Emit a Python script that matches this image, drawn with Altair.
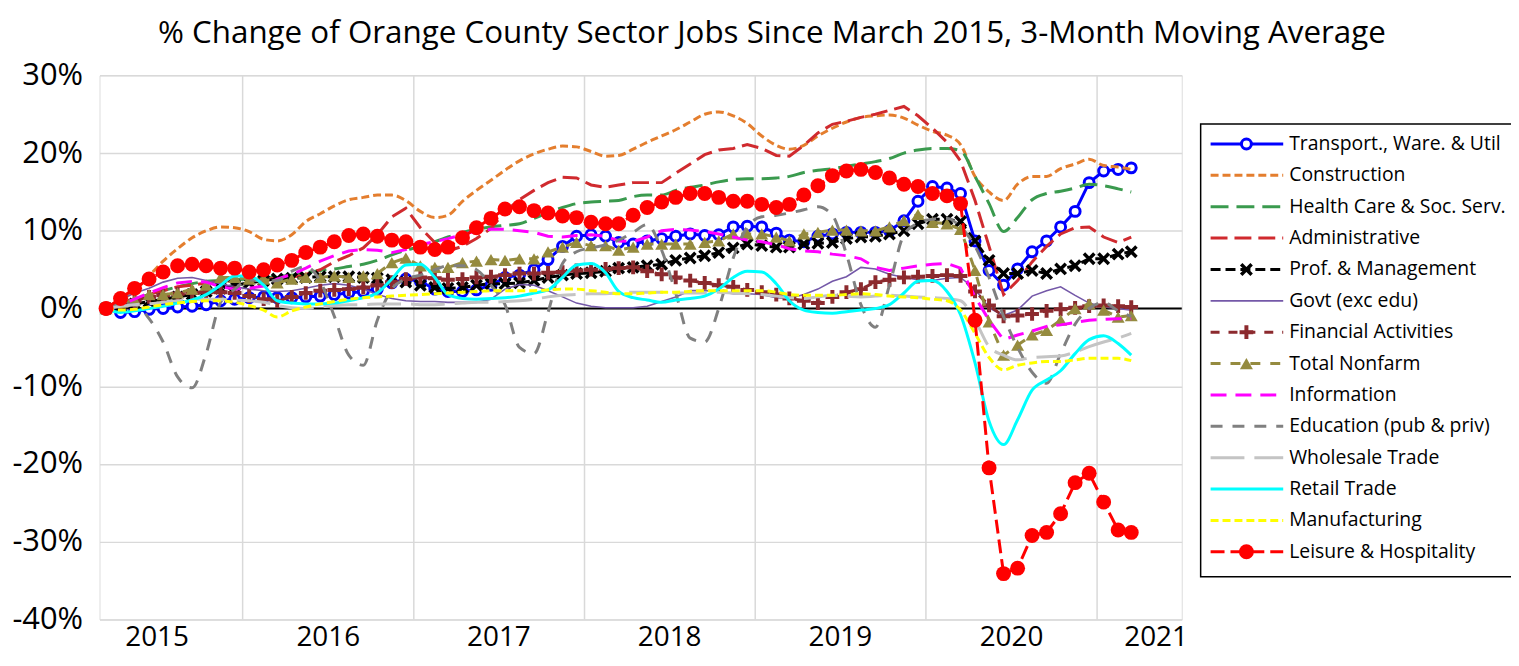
import altair as alt
import pandas as pd

# ---------------- data ----------------
months = [d.strftime("%Y-%m-15") for d in pd.date_range("2015-03-01", periods=73, freq="MS")]
grid_dates = ["2016-01-01", "2017-01-01", "2018-01-01", "2019-01-01", "2020-01-01", "2021-01-01"]
y_ticks = [-40, -30, -20, -10, 0, 10, 20, 30]

names = ["Transport., Ware. & Util", "Construction", "Health Care & Soc. Serv.", "Administrative",
         "Prof. & Management", "Govt (exc edu)", "Financial Activities", "Total Nonfarm",
         "Information", "Education (pub & priv)", "Wholesale Trade", "Retail Trade",
         "Manufacturing", "Leisure & Hospitality"]

transport = [0.0, -0.5, -0.4, -0.1, 0.0, 0.2, 0.3, 0.5, 1.0, 1.2, 1.4, 1.5,
             1.4, 1.4, 1.5, 1.6, 1.8, 2.0, 2.2, 2.5, 3.3, 3.8, 3.5, 2.5, 2.2, 2.2, 2.4, 3.0,
             4.0, 4.3, 5.0, 6.3, 8.0, 9.3, 9.5, 9.3, 8.5, 8.3, 8.7, 9.0, 9.3, 9.6, 9.4, 9.5,
             10.5, 10.6, 10.5, 9.7, 8.8, 8.6, 9.3, 9.6, 9.8, 9.8, 9.8, 10.0,
             11.3, 13.8, 15.7, 15.5, 14.8,
             8.7, 4.9, 3.0, 5.1, 7.3, 8.7, 10.5, 12.5, 16.2, 17.7, 17.9, 18.1]
construction = [0.0, 1.0, 2.3, 4.2, 6.1, 7.7, 9.1, 10.0, 10.5, 10.4, 9.9, 8.9, 8.7, 9.5, 11.2, 12.2,
                13.2, 14.0, 14.3, 14.6, 14.6, 13.9, 12.5, 11.7, 12.0, 13.8, 15.2, 16.5,
                17.8, 19.0, 19.9, 20.5, 20.9, 20.8, 20.2, 19.6, 19.7, 20.5, 21.4, 22.2, 23.0, 24.0,
                25.0, 25.3, 24.8, 23.8, 22.2, 21.0, 20.5, 21.0, 22.2, 23.2, 24.0, 24.6, 24.8, 24.9,
                24.5, 23.6, 22.8, 22.3, 21.1,
                17.0, 15.0, 13.9, 16.0, 17.0, 17.0, 18.0, 18.6, 19.2, 18.4, 18.2, 17.9]
health = [0.0, 0.5, 1.2, 1.8, 2.3, 2.8, 3.2, 3.5, 3.6, 3.7, 3.8, 3.9, 4.1, 4.3, 4.6, 4.9, 5.1, 5.4,
          5.7, 6.2, 6.9, 7.5, 8.0, 8.6, 9.2, 9.8, 10.2, 10.5,
          10.7, 10.9, 11.6, 12.3, 13.0, 13.5, 13.7, 13.8, 13.9, 14.4, 14.6, 14.6, 15.2, 15.6,
          15.9, 16.3, 16.6, 16.7, 16.7, 16.8, 17.0, 17.5, 17.8, 18.0, 18.3, 18.6, 18.9, 19.3,
          20.0, 20.4, 20.6, 20.6, 20.3,
          17.0, 13.5, 9.9, 11.7, 14.0, 14.8, 15.1, 15.5, 16.0, 15.8, 15.4, 15.0]
admin = [0.0, 0.5, 1.0, 1.8, 2.3, 2.8, 3.0, 3.3, 3.5, 3.6, 3.7, 3.8, 3.9, 4.0, 4.4, 5.0, 6.0, 6.8,
         7.8, 9.5, 11.8, 12.9, 10.4, 8.5, 7.4, 8.0, 9.0, 10.3,
         12.5, 14.0, 15.2, 16.2, 16.9, 16.8, 15.9, 15.6, 15.9, 16.2, 16.2, 16.2, 17.4, 18.6,
         19.8, 20.4, 20.6, 21.1, 20.6, 19.7, 19.6, 21.0, 22.6, 23.7, 24.1, 24.6, 25.0, 25.5,
         26.0, 24.8, 23.2, 21.4, 19.0,
         13.9, 8.0, 1.8, 3.6, 6.0, 8.0, 9.6, 10.4, 10.5, 9.2, 8.5, 9.2]
prof = [0.0, 0.3, 0.6, 0.9, 1.2, 1.5, 1.8, 2.2, 2.6, 3.0, 3.3, 3.6, 3.8, 3.9, 4.0, 4.1, 4.1, 4.1,
        4.0, 3.9, 3.7, 3.4, 3.0, 2.7, 2.6, 2.7, 3.0, 3.2,
        3.2, 3.3, 3.6, 4.0, 4.3, 4.5, 4.6, 4.8, 5.2, 5.3, 5.5, 5.7, 6.2, 6.5, 6.8, 7.2,
        7.8, 8.3, 8.1, 7.9, 7.9, 8.3, 8.4, 8.5, 9.0, 9.2, 9.3, 9.6,
        10.0, 10.9, 11.5, 11.5, 11.2,
        8.7, 6.2, 4.5, 4.5, 4.9, 4.5, 5.1, 5.5, 6.4, 6.4, 7.0, 7.3]
govt = [0.0, 1.2, 2.0, 2.6, 3.4, 3.9, 4.0, 3.6, 3.2, 2.8, 2.5, 2.3, 2.2, 2.3, 2.6, 3.0, 3.2, 3.0,
        2.5, 1.8, 1.3, 1.0, 0.9, 0.9, 0.8, 0.8, 0.8, 1.2,
        2.5, 3.1, 3.0, 2.3, 1.5, 0.7, 0.3, 0.1, 0.1, 0.1, 0.3, 0.9, 1.5, 2.3, 2.3, 2.2,
        1.9, 1.9, 1.8, 1.4, 1.3, 1.8, 2.5, 3.5, 4.1, 5.3, 5.1, 4.4,
        4.0, 3.7, 3.6, 3.9, 4.0,
        2.5, 0.1, -0.9, -0.2, 1.6, 2.3, 2.8, 1.7, 0.7, 0.2, 0.0, -0.2]
financial = [0.0, 0.3, 1.0, 1.5, 1.7, 1.9, 2.0, 2.1, 2.1, 2.0, 1.6, 1.2, 1.0, 1.5, 2.0, 2.3, 2.4, 2.5,
             2.7, 3.0, 3.4, 3.8, 4.0, 3.9, 3.7, 3.8, 4.0, 4.1,
             4.3, 4.5, 4.5, 4.6, 4.7, 4.9, 5.0, 5.1, 5.2, 5.3, 4.8, 4.4, 4.0, 3.6, 3.3, 3.0,
             2.8, 2.4, 2.1, 1.8, 1.3, 1.0, 0.7, 1.5, 2.1, 2.5, 3.4, 3.7,
             4.0, 4.1, 4.2, 4.3, 4.2,
             2.2, 0.4, -1.0, -0.9, -0.7, -0.3, -0.1, 0.1, 0.3, 0.4, 0.3, 0.2]
nonfarm = [0.0, 0.8, 1.1, 1.8, 1.8, 2.0, 2.5, 3.0, 4.0, 4.0, 3.8, 3.8, 3.3, 3.8, 4.0, 4.0, 4.2, 4.0,
           4.2, 4.5, 5.9, 6.5, 5.5, 5.3, 5.3, 5.9, 6.1, 6.3,
           6.2, 6.4, 6.4, 7.3, 7.9, 8.5, 8.1, 8.1, 7.5, 7.9, 8.3, 8.3, 8.3, 8.3, 8.5, 8.7,
           9.6, 9.6, 9.6, 9.2, 8.7, 9.6, 9.8, 10.1, 10.1, 10.0, 10.0, 10.5,
           11.3, 12.1, 11.1, 10.9, 10.2,
           4.9, -1.7, -6.0, -4.7, -3.4, -2.8, -1.5, 0.0, 0.6, -0.2, -1.1, -0.9]
information = [0.0, 0.5, 1.2, 2.0, 2.7, 3.3, 3.5, 3.4, 2.8, 2.5, 2.6, 2.9, 3.8, 4.4, 5.2, 6.1, 6.8, 7.4,
               7.6, 7.5, 7.2, 7.6, 8.2, 8.6, 9.0, 9.5, 10.0, 10.2,
               10.2, 10.0, 9.8, 9.3, 9.2, 9.4, 9.5, 9.3, 8.7, 8.6, 9.2, 10.0, 10.2, 10.1, 9.9, 9.6,
               9.2, 8.8, 8.6, 8.2, 7.7, 7.4, 7.3, 7.0, 6.8, 6.4, 5.3, 4.9,
               5.2, 5.5, 5.7, 5.8, 5.2,
               1.5, -1.5, -4.0, -3.4, -2.9, -2.3, -2.1, -1.8, -1.5, -1.4, -1.3, -1.3]
education = [0.0, 0.6, 0.5, -1.3, -4.3, -8.8, -10.2, -5.8, 0.8, 2.5, 3.7, 3.5, 3.6, 4.8, 5.4, 3.5,
             -1.0, -6.0, -7.3, -1.5, 2.5, 3.8, 4.3, 5.0, 5.5, 5.5, 5.0, 3.0,
             0.5, -5.0, -5.8, -0.5, 5.8, 7.3, 7.8, 8.2, 8.8, 9.8, 10.8, 7.5, 2.0, -3.8, -4.3, 0.0,
             6.5, 10.5, 11.8, 12.0, 12.3, 12.7, 13.1, 12.0, 7.0, 0.5, -2.4, 3.0,
             9.5, 11.0, 11.5, 11.6, 10.5,
             8.0, 4.0, -1.0, -5.0, -8.2, -9.6, -5.8, -2.0, 0.0, 0.8, -0.3, -1.0]
wholesale = [0.0, 0.3, 0.5, 0.6, 0.8, 1.0, 1.2, 1.2, 1.2, 1.1, 1.0, 0.8, 0.4, 0.1, 0.0, 0.2, 0.4, 0.5,
             0.5, 0.6, 0.6, 0.6, 0.5, 0.5, 0.6, 0.7, 0.8, 0.8,
             0.9, 1.0, 1.2, 1.5, 1.7, 1.8, 1.9, 1.9, 2.0, 2.1, 2.1, 2.1, 2.0, 2.0, 2.0, 2.1,
             2.0, 1.9, 1.8, 1.6, 1.4, 1.3, 1.5, 1.7, 1.6, 1.5, 1.6, 1.7,
             1.6, 1.5, 1.4, 1.3, 1.0,
             -1.5, -4.9, -6.0, -6.6, -6.3, -6.2, -6.1, -5.6, -4.9, -4.3, -3.8, -3.2]
retail = [0.0, -0.5, -0.3, 0.0, 0.3, 0.7, 1.1, 1.8, 3.0, 4.2, 4.2, 3.0, 1.0, 0.7, 0.6, 0.6, 0.7, 1.0,
          1.4, 2.0, 3.8, 5.6, 5.7, 4.0, 1.8, 1.3, 1.2, 1.3,
          1.4, 1.6, 2.0, 2.4, 4.0, 5.6, 5.8, 4.6, 2.2, 1.4, 1.1, 0.8, 1.1, 1.3, 1.6, 2.5,
          4.0, 4.8, 4.7, 3.2, 1.0, -0.2, -0.5, -0.6, -0.4, -0.2, 0.0, 0.5,
          2.0, 3.5, 3.6, 2.2, -0.8,
          -7.0, -14.5, -17.5, -14.3, -10.5, -9.2, -8.0, -5.8, -4.0, -3.5, -4.5, -6.0]
manufacturing = [0.0, -0.2, -0.1, 0.2, 0.5, 0.7, 0.9, 1.0, 1.0, 0.8, 0.4, -0.2, -1.1, -0.3, 0.2, 0.6,
                 0.9, 1.2, 1.4, 1.5, 1.6, 1.7, 1.8, 1.9, 2.0, 2.1, 2.2, 2.3,
                 2.3, 2.3, 2.3, 2.4, 2.5, 2.5, 2.3, 2.1, 1.9, 1.9, 2.0, 2.1, 2.1, 2.2, 2.3, 2.3,
                 2.3, 2.3, 2.3, 2.1, 1.8, 1.7, 1.7, 1.7, 1.8, 1.9, 1.8, 1.6,
                 1.5, 1.4, 1.2, 1.0, -0.2,
                 -3.2, -6.3, -7.9, -7.3, -7.0, -6.8, -6.8, -6.6, -6.4, -6.4, -6.4, -6.7]
leisure = [0.0, 1.3, 2.6, 3.8, 4.7, 5.5, 5.7, 5.5, 5.2, 5.2, 4.7, 5.0, 5.6, 6.2, 7.2, 7.9, 8.6, 9.4,
           9.6, 9.3, 8.8, 8.6, 7.9, 7.6, 7.9, 9.1, 10.4, 11.6,
           12.8, 13.1, 12.6, 12.3, 11.9, 11.7, 11.1, 10.9, 10.9, 12.0, 13.0, 13.7, 14.3, 14.8,
           14.8, 14.3, 13.8, 13.8, 13.4, 13.0, 13.4, 14.6, 15.8, 17.1, 17.7, 17.9, 17.5, 16.8,
           16.0, 15.7, 14.8, 14.5, 13.5,
           -1.5, -20.5, -34.1, -33.4, -29.2, -28.8, -26.4, -22.4, -21.2, -24.9, -28.5, -28.8]

values = [transport, construction, health, admin, prof, govt, financial, nonfarm,
          information, education, wholesale, retail, manufacturing, leisure]

# ---------------- styles ----------------
colors = ["#0000FF", "#E47E2E", "#3A9A4E", "#D02A2E", "#000000", "#7458A8", "#8C2A2E", "#958B3F",
          "#FF00FF", "#808080", "#C4C4C4", "#00FFFF", "#FFFF00", "#FF0000"]
dashes = [None, [8, 4], [18, 8], [17, 7], [10, 5], None, [9, 9], [10, 10],
          [16, 9], [12, 10], [34, 10], None, [8, 4], [14, 6]]
widths = [3, 3, 3, 3, 3, 1.6, 3, 3, 3, 3, 3, 3, 3, 3]
smooth = [False, True, True, False, False, False, False, False, False, True, True, True, True, False]
markers = {
    0: dict(shape="circle", filled=True, fill="white", stroke="#0000FF", strokeWidth=3, size=100),
    4: dict(shape="M-1,-1L1,1M-1,1L1,-1", filled=False, stroke="#000000", strokeWidth=3.5, size=110),
    6: dict(shape="M-1,0L1,0M0,-1L0,1", filled=False, stroke="#8C2A2E", strokeWidth=4, size=190),
    7: dict(shape="triangle-up", filled=True, fill="#958B3F", stroke="#958B3F", strokeWidth=0, size=170),
    13: dict(shape="circle", filled=True, fill="#FF0000", stroke="#FF0000", strokeWidth=0, size=225),
}

FONT = "Open Sans"

rows = []
for n, vals in zip(names, values):
    for d, v in zip(months, vals):
        rows.append({"date": d, "series": n, "value": v})
df = pd.DataFrame(rows)

xscale = alt.Scale(domain=[alt.DateTime(year=2015, month=3, date=1),
                           alt.DateTime(year=2021, month=7, date=1)])
yscale = alt.Scale(domain=[-40, 30], nice=False, zero=False)
label_dates = [alt.DateTime(year=y, month=7, date=1) for y in range(2015, 2021)] + \
              [alt.DateTime(year=2021, month=5, date=6)]
xaxis = alt.Axis(values=label_dates, format="%Y", grid=False, ticks=False, domain=False,
                 labelFontSize=28, labelFont=FONT, labelColor="black", labelPadding=4,
                 labelFlush=False, labelOverlap=False, title=None)
yaxis = alt.Axis(values=y_ticks, labelExpr="datum.value + '%'", grid=True, gridColor="#D9D9D9",
                 gridWidth=1.5, ticks=False, domain=False, labelFontSize=31, labelFont=FONT,
                 labelColor="black", labelPadding=17, title=None)

X = alt.X("date:T", scale=xscale, axis=xaxis)
Y = alt.Y("value:Q", scale=yscale, axis=yaxis)

main_layers = [
    alt.Chart(pd.DataFrame({"date": grid_dates})).mark_rule(color="#D9D9D9", strokeWidth=1.5)
    .encode(x=X),
    alt.Chart(pd.DataFrame({"value": [0]})).mark_rule(color="black", strokeWidth=2).encode(y=Y),
]
for i, n in enumerate(names):
    base = alt.Chart(df).transform_filter(alt.datum.series == n)
    lk = dict(color=colors[i], strokeWidth=widths[i])
    if dashes[i]:
        lk["strokeDash"] = dashes[i]
    if smooth[i]:
        lk["interpolate"] = "monotone"
    main_layers.append(base.mark_line(**lk).encode(x=X, y=Y))
    if i in markers:
        main_layers.append(base.mark_point(opacity=1, **markers[i]).encode(x=X, y=Y))

main = alt.layer(*main_layers)

# ---------------- custom legend ----------------
leg_y = alt.Scale(type="point", domain=names, range=[69, 479], padding=0)
LY = alt.Y("name:N", scale=leg_y, axis=None)
leg_layers = [
    alt.Chart(pd.DataFrame({"name": [names[0]]})).mark_rect(fill="white", stroke="black", strokeWidth=1.5)
    .encode(x=alt.value(1107), x2=alt.value(1440), y=alt.value(49), y2=alt.value(504))
]
for i, n in enumerate(names):
    one = alt.Chart(pd.DataFrame({"name": [n]}))
    rk = dict(color=colors[i], strokeWidth=widths[i])
    if dashes[i]:
        rk["strokeDash"] = dashes[i]
    leg_layers.append(one.mark_rule(**rk).encode(x=alt.value(1117), x2=alt.value(1190), y=LY))
    if i in markers:
        leg_layers.append(one.mark_point(opacity=1, **markers[i]).encode(x=alt.value(1153), y=LY))
    leg_layers.append(one.mark_text(align="left", baseline="middle", fontSize=19.5, font=FONT,
                                    color="black").encode(x=alt.value(1196), y=LY, text="name:N"))
legend = alt.layer(*leg_layers)

chart = alt.layer(main, legend).resolve_scale(y="independent").properties(
    width=1088, height=547,
    title=alt.TitleParams("% Change of Orange County Sector Jobs Since March 2015, 3-Month Moving Average",
                          fontSize=31.5, font=FONT, fontWeight="normal", color="black",
                          anchor="middle", frame="group", dx=132, offset=10),
    padding={"left": 92, "top": 66, "right": 331, "bottom": 33},
    autosize=alt.AutoSizeParams(type="none"),
).configure_view(stroke="black", strokeWidth=2).configure(background="white")

chart.save("out.html", embed_options={"renderer": "svg", "actions": False})
